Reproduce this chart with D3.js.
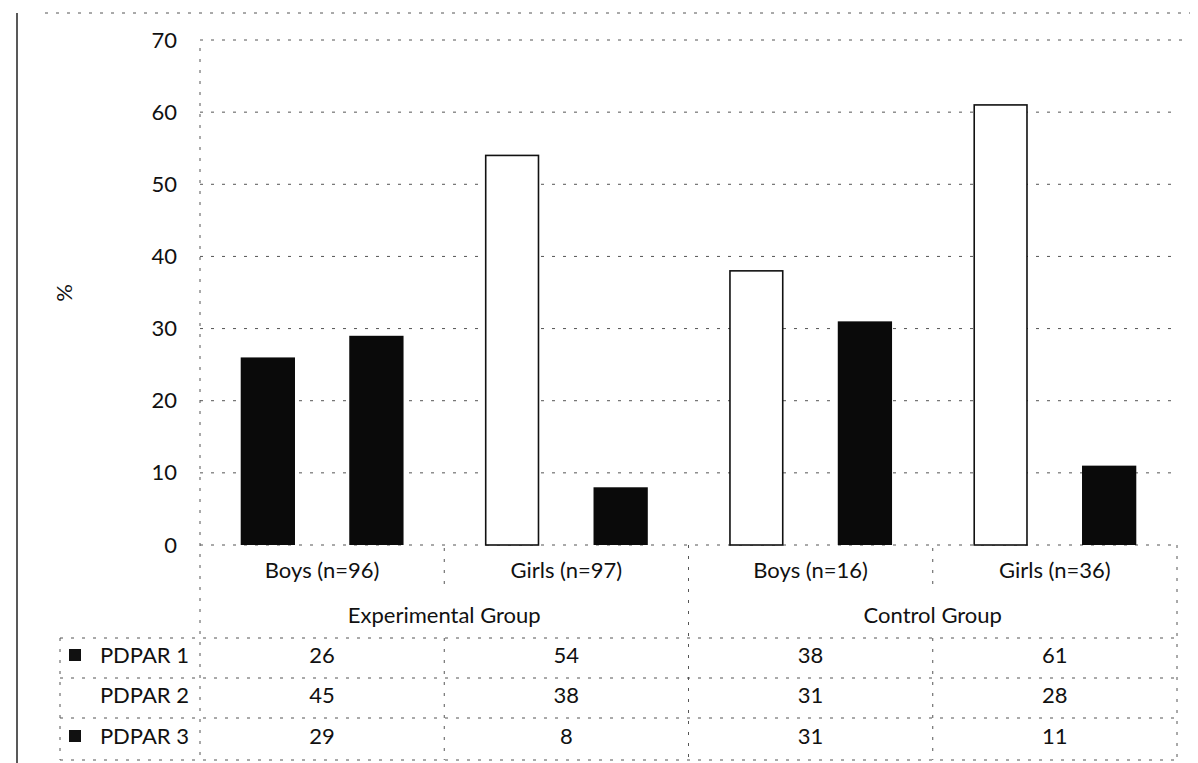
<!DOCTYPE html>
<html>
<head>
<meta charset="utf-8">
<script src="https://cdn.jsdelivr.net/npm/d3@7"></script>
<style>
  html, body { margin: 0; padding: 0; background: #fff; }
  svg { display: block; font-family: Lato, 'Open Sans', sans-serif; }
</style>
</head>
<body>
<div id="graph"></div>
<script>
const CATEGORIES = ['Boys (n=96)', 'Girls (n=97)', 'Boys (n=16)', 'Girls (n=36)'],
      GROUPS = ['Experimental Group', 'Control Group'],
      SERIES = ['PDPAR 1', 'PDPAR 2', 'PDPAR 3'],
      PDPAR1 = [26, 54, 38, 61],
      PDPAR2 = [45, 38, 31, 28],
      PDPAR3 = [29, 8, 31, 11],
      Y_TICKS = [0, 10, 20, 30, 40, 50, 60, 70]

const SIZE = Object.freeze({
        WIDTH: 1198,
        HEIGHT: 763,
        LEFT: 200,
        RIGHT: 1177,
        TOP: 40,
        ZERO: 545,
        FONT: 22
      }),
      ROWS = Object.freeze({
        CATEGORY: 570,
        GROUP: 615,
        TABLE: [638, 678, 718, 760],
        HEADER_LEFT: 60
      })

// the scan lost the grey fills: series 2 is blank, series 1 is outline-only except the first bar
const barStyle = (s, i) => {
  if (s === 'PDPAR 2') return { fill: 'none', stroke: 'none' }
  if (s === 'PDPAR 1' && i > 0) return { fill: '#fff', stroke: '#111' }
  return { fill: '#0a0a0a', stroke: 'none' }
}
const legendFill = { 'PDPAR 1': '#111', 'PDPAR 2': 'none', 'PDPAR 3': '#111' }

const seriesValues = { 'PDPAR 1': PDPAR1, 'PDPAR 2': PDPAR2, 'PDPAR 3': PDPAR3 }

const dataset = CATEGORIES.map((c, i) => ({
  category: c,
  index: i,
  values: SERIES.map(s => ({ series: s, value: seriesValues[s][i], index: i }))
}))

const buildGraph = () => {
  const x0 = d3.scaleBand()
          .domain(CATEGORIES)
          .range([SIZE.LEFT, SIZE.RIGHT])
          .padding(0),
        x1 = d3.scaleBand()
          .domain(SERIES)
          .range([0, x0.bandwidth()])
          .paddingInner(0)
          .paddingOuter(0.75),
        y = d3.scaleLinear()
          .domain([0, 70])
          .range([SIZE.ZERO, SIZE.TOP])

  const svg = d3.select('#graph')
    .append('svg')
    .attr('width', SIZE.WIDTH)
    .attr('height', SIZE.HEIGHT)

  const dash = sel => sel
    .attr('stroke', '#555')
    .attr('stroke-width', 1)
    .attr('stroke-dasharray', '3,8')
    .attr('fill', 'none')

  const label = sel => sel
    .attr('font-size', SIZE.FONT)
    .attr('fill', '#111')

  // scan frame
  svg.append('line')
    .attr('x1', 17).attr('x2', 17)
    .attr('y1', 13).attr('y2', SIZE.HEIGHT)
    .attr('stroke', '#222')
    .attr('stroke-width', 1.5)
  svg.append('line')
    .attr('x1', 45).attr('x2', 1190)
    .attr('y1', 13).attr('y2', 13)
    .call(dash)

  // gridlines
  svg.append('g')
    .selectAll('line')
    .data(Y_TICKS)
    .enter()
    .append('line')
    .attr('x1', SIZE.LEFT)
    .attr('x2', d => d === 70 ? 1187 : SIZE.RIGHT)
    .attr('y1', d => y(d))
    .attr('y2', d => y(d))
    .call(dash)

  const yAxis = d3.axisLeft(y)
    .tickValues(Y_TICKS)
    .tickSize(0)
    .tickPadding(23)
  svg.append('g')
    .attr('transform', `translate(${SIZE.LEFT},0)`)
    .call(yAxis)
    .call(g => g.select('.domain').remove())
    .selectAll('text')
    .attr('font-family', 'Lato, sans-serif')
    .call(label)

  svg.append('text')
    .attr('transform', `translate(72,${293}) rotate(-90)`)
    .attr('text-anchor', 'middle')
    .call(label)
    .text('%')

  // bars
  const cat = svg.append('g')
    .selectAll('g')
    .data(dataset)
    .enter()
    .append('g')
    .attr('transform', d => `translate(${x0(d.category)},0)`)
  cat.selectAll('rect')
    .data(d => d.values)
    .enter()
    .append('rect')
    .attr('x', d => x1(d.series) + (barStyle(d.series, d.index).stroke === 'none' ? 0 : 0.75))
    .attr('width', d => x1.bandwidth() - (barStyle(d.series, d.index).stroke === 'none' ? 0 : 1.5))
    .attr('y', d => y(d.value))
    .attr('height', d => y(0) - y(d.value))
    .attr('fill', d => barStyle(d.series, d.index).fill)
    .attr('stroke', d => barStyle(d.series, d.index).stroke)
    .attr('stroke-width', 1.6)

  // vertical separators
  const bounds = [SIZE.LEFT, ...CATEGORIES.slice(1).map(c => x0(c)), SIZE.RIGHT]
  svg.append('line')
    .attr('x1', SIZE.LEFT).attr('x2', SIZE.LEFT)
    .attr('y1', SIZE.TOP + 8).attr('y2', ROWS.TABLE[3])
    .call(dash)
  bounds.slice(1).forEach((bx, i) => {
    const full = i === 1 || i === 3
    svg.append('line')
      .attr('x1', bx).attr('x2', bx)
      .attr('y1', full ? SIZE.ZERO : SIZE.ZERO + 3)
      .attr('y2', full ? ROWS.TABLE[3] : ROWS.CATEGORY + 20)
      .call(dash)
    if (!full) {
      svg.append('line')
        .attr('x1', bx).attr('x2', bx)
        .attr('y1', ROWS.TABLE[0]).attr('y2', ROWS.TABLE[3])
        .call(dash)
    }
  })

  // category labels
  svg.append('g')
    .selectAll('text')
    .data(CATEGORIES)
    .enter()
    .append('text')
    .attr('x', d => x0(d) + x0.bandwidth() / 2)
    .attr('y', ROWS.CATEGORY)
    .attr('dy', '0.35em')
    .attr('text-anchor', 'middle')
    .call(label)
    .text(d => d)

  svg.append('g')
    .selectAll('text')
    .data(GROUPS)
    .enter()
    .append('text')
    .attr('x', (d, i) => (x0(CATEGORIES[i * 2]) + x0(CATEGORIES[i * 2 + 1]) + x0.bandwidth()) / 2)
    .attr('y', ROWS.GROUP)
    .attr('dy', '0.35em')
    .attr('text-anchor', 'middle')
    .call(label)
    .text(d => d)

  // data table
  ROWS.TABLE.forEach(ty => {
    svg.append('line')
      .attr('x1', ROWS.HEADER_LEFT).attr('x2', SIZE.RIGHT)
      .attr('y1', ty).attr('y2', ty)
      .call(dash)
  })
  svg.append('line')
    .attr('x1', ROWS.HEADER_LEFT).attr('x2', ROWS.HEADER_LEFT)
    .attr('y1', ROWS.TABLE[0]).attr('y2', ROWS.TABLE[3])
    .call(dash)

  const rowMid = i => (ROWS.TABLE[i] + ROWS.TABLE[i + 1]) / 2 - 3
  const row = svg.append('g')
    .selectAll('g')
    .data(SERIES)
    .enter()
    .append('g')
    .attr('transform', (d, i) => `translate(0,${rowMid(i)})`)
  row.append('rect')
    .attr('x', 69)
    .attr('y', -6)
    .attr('width', 12)
    .attr('height', 12)
    .attr('fill', d => legendFill[d])
  row.append('text')
    .attr('x', 189)
    .attr('dy', '0.35em')
    .attr('text-anchor', 'end')
    .call(label)
    .text(d => d)
  row.selectAll('text.val')
    .data(d => seriesValues[d].map((v, i) => ({ v, c: CATEGORIES[i] })))
    .enter()
    .append('text')
    .attr('class', 'val')
    .attr('x', d => x0(d.c) + x0.bandwidth() / 2)
    .attr('dy', '0.35em')
    .attr('text-anchor', 'middle')
    .call(label)
    .text(d => d.v)
}

document.addEventListener('DOMContentLoaded', buildGraph)
</script>
</body>
</html>
